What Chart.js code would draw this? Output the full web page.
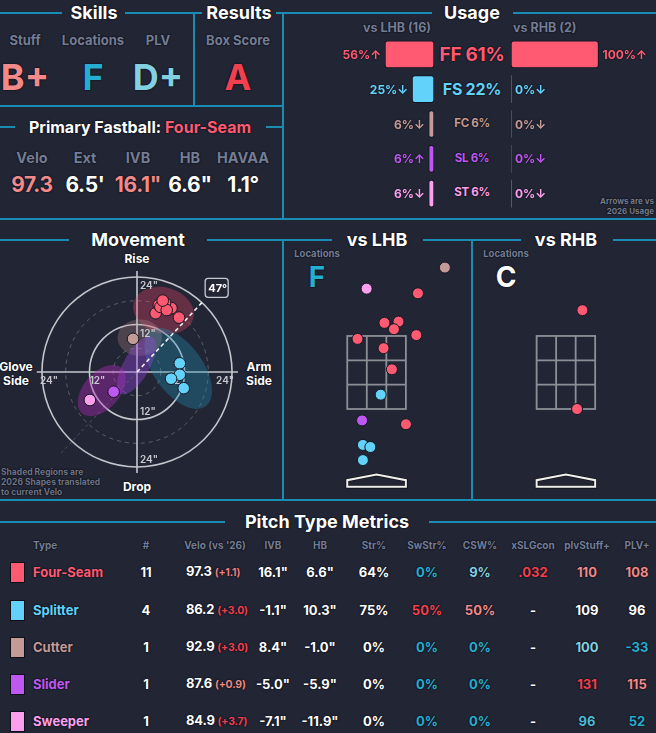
<!DOCTYPE html>
<html><head><meta charset="utf-8">
<script src="https://cdn.jsdelivr.net/npm/chart.js@4.4.1/dist/chart.umd.min.js"></script>
<style>
html,body{margin:0;padding:0;}
body{background:#222534;width:656px;height:733px;overflow:hidden;font-family:Inter,"DejaVu Sans",sans-serif;position:relative;}
.ln{position:absolute;background:#1a8cb4;}
.t{position:absolute;white-space:nowrap;font-weight:700;line-height:1;text-shadow:0 0 1px #0b0c12,0 0 2px #0b0c12;}
canvas{position:absolute;}
</style></head><body>
<script>
// ---------------- DATA ----------------
const pitchCodes = ['FF','FS','FC','SL','ST'];
const pitchNames = ['Four-Seam','Splitter','Cutter','Slider','Sweeper'];
const usageAll = [61,22,6,6,6];
const usageLHB = [56,25,6,6,6];
const usageRHB = [100,0,0,0,0];
const arrowLHB = ['↑','↓','↓','↑','↓'];
const arrowRHB = ['↑','↓','↓','↓','↓'];
const countLHB = 16, countRHB = 2;

const skillLabels = ['Stuff','Locations','PLV'];
const skillGrades = ['B+','F','D+'];
const resultLabel = 'Box Score', resultGrade = 'A';
const fbLabels = ['Velo','Ext','IVB','HB','HAVAA'];
const fbValues = ['97.3',"6.5'",'16.1"','6.6"','1.1°'];

// movement (HB, IVB in inches)
const mvFF = [{x:4.7,y:14.9},{x:6.2,y:17.5},{x:6.7,y:16.9},{x:7.9,y:15.8},{x:8.7,y:16.2},{x:10.6,y:13.8},{x:5.5,y:17.0},{x:7.1,y:17.5},{x:5.9,y:16.5},{x:7.5,y:15.7},{x:6.5,y:18.1}];
const mvFS = [{x:10.8,y:2.2},{x:10.8,y:-0.7},{x:8.6,y:-1.7},{x:11.8,y:-4.1}];
const mvFC = [{x:-1.0,y:8.4}];
const mvSL = [{x:-5.9,y:-5.0}];
const mvST = [{x:-11.9,y:-7.1}];
// 2026 shapes (center HB, center IVB, radii, rotation deg)
const shapeCX = [6.7, 10.4, 0.7, -0.1, -8.9];
const shapeCY = [15.6, 0.9, 8.7, 1.7, -4.7];
const shapeRX = [7.8, 11.8, 5.6, 8.2, 7.6];
const shapeRY = [5.8, 6.2, 4.6, 3.3, 4.6];
const shapeRot = [-15, -54, 0, 61, 49];
const ringTicks = [12, 24];
const ringMinor = [6, 18];
const armAngle = 47;

// locations (plate x, plate z in feet)
const locFF_L = [{x:1.00,y:4.29},{x:0.19,y:3.59},{x:0.53,y:3.62},{x:0.42,y:3.44},{x:0.96,y:3.30},{x:-0.46,y:3.21},{x:0.17,y:2.99},{x:0.37,y:2.49},{x:0.71,y:1.19}];
const locFS_L = [{x:0.10,y:1.89},{x:-0.33,y:0.70},{x:-0.15,y:0.65},{x:-0.33,y:0.34}];
const locFC_L = [{x:1.65,y:4.90}];
const locSL_L = [{x:-0.35,y:1.28}];
const locST_L = [{x:-0.24,y:4.40}];
const locFF_R = [{x:0.40,y:3.89},{x:0.27,y:1.55}];
const locGradeL = 'F', locGradeR = 'C';
const zoneBot = 1.55, zoneTop = 3.28, zoneHalf = 0.708;

// table
const tableHeaders = ['Type','#',"Velo (vs '26)",'IVB','HB','Str%','SwStr%','CSW%','xSLGcon','plvStuff+','PLV+'];
const pitchCounts = ['11','4','1','1','1'];
const veloVals = ['97.3','86.2','92.9','87.6','84.9'];
const veloDelta = ['+1.1','+3.0','+3.0','+0.9','+3.7'];
const ivbVals = ['16.1"','-1.1"','8.4"','-5.0"','-7.1"'];
const hbVals = ['6.6"','10.3"','-1.0"','-5.9"','-11.9"'];
const strPct = ['64%','75%','0%','0%','0%'];
const swStrPct = ['0%','50%','0%','0%','0%'];
const cswPct = ['9%','50%','0%','0%','0%'];
const xslgCon = ['.032','-','-','-','-'];
const plvStuff = ['110','109','100','131','96'];
const plvPlus = ['108','96','-33','115','52'];

// ---------------- STYLE ----------------
const pitchColors = ['#ff5a72','#62d2fa','#c49a96','#bf58f2','#fca0ee'];
const shapeFill = ['rgba(240,70,105,0.33)','rgba(30,150,190,0.32)','rgba(205,160,160,0.25)','rgba(150,70,225,0.38)','rgba(185,45,195,0.38)'];
const COL = {w:'#ffffff', red:'#f2404e', sal:'#f28a8a', teal:'#25aed0', lteal:'#82d0e2', mteal:'#4cbbd6', g:'#737d96'};
const gradeCols = [COL.sal, COL.teal, COL.lteal];
const fbCols = [COL.sal, COL.w, COL.sal, COL.w, COL.w];
const deltaCol = ['#ea7f80','#f2404e','#f2404e','#ea8a80','#f2404e'];
const swCol = ['teal','red','teal','teal','teal'];
const cswCol = ['lteal','sal','teal','teal','teal'];
const xslgCol = ['red','w','w','w','w'];
const stuffCol = ['sal','w','lteal','red','mteal'];
const plvCol = ['sal','w','teal','sal','teal'];

// ---------------- HELPERS ----------------
function H(x1,x2,y){const d=document.createElement('div');d.className='ln';d.style.left=x1+'px';d.style.top=(y-1)+'px';d.style.width=(x2-x1)+'px';d.style.height='2px';document.body.appendChild(d);}
function V(x,y1,y2){const d=document.createElement('div');d.className='ln';d.style.left=(x-1)+'px';d.style.top=y1+'px';d.style.width='2px';d.style.height=(y2-y1)+'px';document.body.appendChild(d);}
function T(txt,x,y,size,color,a,w,html,ls){
  const d=document.createElement('div');d.className='t';
  d.style.left=x+'px';d.style.top=y+'px';d.style.fontSize=size+'px';d.style.color=color;
  a=a||'c';
  d.style.transform=a==='c'?'translate(-50%,-50%)':a==='l'?'translate(0,-50%)':'translate(-100%,-50%)';
  if(w)d.style.fontWeight=w;
  if(ls)d.style.letterSpacing=ls+'px';
  if(html)d.innerHTML=txt;else d.textContent=txt;
  document.body.appendChild(d);return d;
}
function mkCanvas(l,t,w,h){const c=document.createElement('canvas');c.width=w;c.height=h;c.style.left=l+'px';c.style.top=t+'px';c.style.width=w+'px';c.style.height=h+'px';document.body.appendChild(c);return c;}

// ---------------- FRAME LINES ----------------
H(0,62,13);H(125,202,13);H(276,283,13);H(283,432,13);H(513,656,13);
V(194,13,106);H(0,283,106);H(0,15,127);H(266,283,127);
V(283,13,219);H(0,656,219);
H(0,69,240);H(207,332,240);H(423,521,240);H(613,656,240);
V(283,240,500);V(472,240,500);H(0,656,500);
H(0,225,522);H(429,656,522);

// ---------------- TOP-LEFT TEXT ----------------
T('Skills',94,13,18,'#fff');T('Results',239,13,18,'#fff');T('Usage',472,13,18,'#fff');
[25,93,158].forEach((x,i)=>{T(skillLabels[i],x,40,13,COL.g,'c',700);T(skillGrades[i],x,77,36,gradeCols[i]);});
T(resultLabel,238,40,13,COL.g,'c',700);T(resultGrade,238,77,36,COL.red);
T('Primary Fastball: <span style="color:#ff5a72">Four-Seam</span>',140,127,16,'#fff','c',700,true);
[32,85,138,190,243].forEach((x,i)=>{T(fbLabels[i],x,158,14.5,COL.g,'c',700);T(fbValues[i],x,184,21,fbCols[i],'c',700,false,-0.3);});

// ---------------- USAGE ----------------
T('vs LHB ('+countLHB+')',431,28,12.5,COL.g,'r',700);
T('vs RHB ('+countRHB+')',513,28,12.5,COL.g,'l',700);
const centerSizes=[19,16,11.5,11.5,11.5];
const rowY=[54,89,124,159,193];
pitchCodes.forEach((c,i)=>T(c+' '+usageAll[i]+'%',472,rowY[i],centerSizes[i],pitchColors[i],'c',700,false,-0.3));
T('Arrows are vs',654,201,8,'#737b8e','r',700);T('2026 Usage',654,211,8,'#737b8e','r',700);

const PXPCT=0.875;
function usageLabelPlugin(arrows, left){
  return {id:'ulab',afterDatasetsDraw(chart){
    const ctx=chart.ctx;const meta=chart.getDatasetMeta(0);
    ctx.save();ctx.font='700 12px Inter, "DejaVu Sans"';ctx.textBaseline='middle';
    meta.data.forEach((bar,i)=>{
      const v=chart.data.datasets[0].data[i];
      ctx.fillStyle=pitchColors[i];
      const txt=v+'%'+arrows[i];
      ctx.shadowColor='#0b0c12';ctx.shadowBlur=2;
      if(left){ctx.textAlign='right';ctx.fillText(txt,bar.x-4,bar.y+1);}
      else{ctx.textAlign='left';ctx.fillText(txt,bar.x+4,bar.y+1);}
    });
    ctx.restore();
  }};
}
function usageChart(canvas,data,arrows,left){
  const W=canvas.width;
  return new Chart(canvas,{type:'bar',
    data:{labels:pitchCodes,datasets:[{data:data,backgroundColor:pitchColors,borderColor:'#111420',
      borderWidth:(c)=>c.raw>0?1:0,borderRadius:3,borderSkipped:false,barThickness:27}]},
    options:{indexAxis:'y',responsive:false,maintainAspectRatio:false,animation:false,events:[],
      layout:{padding:0},plugins:{legend:{display:false},tooltip:{enabled:false}},
      scales:{x:{display:false,reverse:left,min:0,max:W/PXPCT},y:{display:false}}},
    plugins:[usageLabelPlugin(arrows,left)]});
}
usageChart(mkCanvas(286,37,148,174),usageLHB,arrowLHB,true);
usageChart(mkCanvas(511,37,145,174),usageRHB,arrowRHB,false);

// ---------------- MOVEMENT ----------------
T('Movement',138,240,18,'#fff');
T('Rise',137,259,12,'#fff');T('Drop',137,487,12,'#fff');
T('Glove',16,367,12,'#fff');T('Side',16,381,12,'#fff');
T('Arm',259,367,12,'#fff');T('Side',259,381,12,'#fff');
T('Shaded Regions are',1,472,8.5,'#6c7386','l',700);
T('2026 Shapes translated',1,482,8.5,'#6c7386','l',700);
T('to current Velo',1,492,8.5,'#6c7386','l',700);

const PPI=100/24;
const mvW=274,mvH=256,mvCX=137,mvCY=128;
const movePlugin={id:'mv',beforeDatasetsDraw(chart){
  const {ctx,scales:{x,y}}=chart;
  const px=v=>x.getPixelForValue(v),py=v=>y.getPixelForValue(v);
  const cx=px(0),cy=py(0),k=px(1)-px(0);
  ctx.save();
  ctx.setLineDash([4,4]);ctx.strokeStyle='rgba(200,200,200,0.35)';ctx.lineWidth=1;
  ringMinor.forEach(r=>{ctx.beginPath();ctx.arc(cx,cy,r*k,0,Math.PI*2);ctx.stroke();});
  ctx.setLineDash([]);
  ctx.strokeStyle='#c4c6cc';ctx.lineWidth=1.6;
  ringTicks.forEach(r=>{ctx.beginPath();ctx.arc(cx,cy,r*k,0,Math.PI*2);ctx.stroke();});
  ctx.beginPath();ctx.moveTo(px(-25.3),cy);ctx.lineTo(px(25.5),cy);ctx.moveTo(cx,py(25.6));ctx.lineTo(cx,py(-25.6));ctx.stroke();
  const a=armAngle*Math.PI/180;
  ctx.setLineDash([3,3]);ctx.strokeStyle='rgba(200,200,200,0.28)';ctx.lineWidth=1;
  ctx.beginPath();ctx.moveTo(cx,cy);ctx.lineTo(px(-28.5*Math.cos(a)),py(-28.5*Math.sin(a)));ctx.stroke();
  ctx.setLineDash([]);
  shapeCX.forEach((sx,i)=>{ctx.beginPath();ctx.ellipse(px(sx),py(shapeCY[i]),shapeRX[i]*k,shapeRY[i]*k,-shapeRot[i]*Math.PI/180,0,Math.PI*2);ctx.fillStyle=shapeFill[i];ctx.fill();});
  ctx.setLineDash([4,3]);ctx.strokeStyle='#f2f2f2';ctx.lineWidth=1.6;
  const ex=px(24.5*Math.cos(a)),ey=py(24.5*Math.sin(a));
  ctx.beginPath();ctx.moveTo(cx,cy);ctx.lineTo(ex,ey);ctx.stroke();
  ctx.setLineDash([]);
  ctx.font='600 10px Inter, "DejaVu Sans"';ctx.fillStyle='#c8cad0';ctx.textBaseline='middle';
  ctx.textAlign='left';
  ringTicks.forEach(r=>{ctx.fillText(r+'"',cx+3,py(r)+9);ctx.fillText(r+'"',cx+3,py(-r)-7);});
  ctx.textAlign='center';
  ringTicks.forEach(r=>{ctx.fillText(r+'"',px(-r)+(r===24?7:8),cy+9);ctx.fillText(r+'"',px(r)-7,cy+9);});
  const bx=ex+13.5,by=ey-13.5;
  ctx.fillStyle='#222534';ctx.strokeStyle='#c8cad0';ctx.lineWidth=1.3;
  ctx.beginPath();ctx.roundRect(bx-11.5,by-9.5,23,19,3);ctx.fill();ctx.stroke();
  ctx.fillStyle='#fff';ctx.font='700 11px Inter, "DejaVu Sans"';ctx.fillText(armAngle+'°',bx+1,by+1);
  ctx.restore();
}};
const mvSets=[mvFF,mvFS,mvFC,mvSL,mvST];
function ptSets(sets,idx,r){return sets.map((d,j)=>({data:d,backgroundColor:pitchColors[idx[j]],borderColor:'#161824',borderWidth:1,pointRadius:r}));}
new Chart(mkCanvas(0,244,mvW,mvH),{type:'scatter',
  data:{datasets:ptSets(mvSets,[0,1,2,3,4],5.8)},
  options:{responsive:false,animation:false,events:[],layout:{padding:0},
    plugins:{legend:{display:false},tooltip:{enabled:false}},
    scales:{x:{display:false,min:-mvCX/PPI,max:(mvW-mvCX)/PPI},y:{display:false,min:-(mvH-mvCY)/PPI,max:mvCY/PPI}}},
  plugins:[movePlugin]});

// ---------------- LOCATIONS ----------------
T('vs LHB',377,240,18,'#fff');T('vs RHB',566,240,18,'#fff');
T('Locations',317,254,9.5,COL.g,'c',700);T(locGradeL,317,277,28,COL.teal);
T('Locations',506,254,9.5,COL.g,'c',700);T(locGradeR,506,277,28,'#fff');
const PPF=44.5;
const zonePlugin={id:'zone',beforeDatasetsDraw(chart){
  const {ctx,scales:{x,y}}=chart;
  const px=v=>x.getPixelForValue(v),py=v=>y.getPixelForValue(v);
  ctx.save();ctx.strokeStyle='#8d8f96';ctx.lineWidth=1.8;
  const x0=px(-zoneHalf),x1=px(zoneHalf),y0=py(zoneTop),y1=py(zoneBot);
  ctx.strokeRect(x0,y0,x1-x0,y1-y0);
  ctx.beginPath();
  for(let i=1;i<3;i++){const xx=x0+(x1-x0)*i/3,yy=y0+(y1-y0)*i/3;ctx.moveTo(xx,y0);ctx.lineTo(xx,y1);ctx.moveTo(x0,yy);ctx.lineTo(x1,yy);}
  ctx.stroke();
  ctx.beginPath();ctx.moveTo(px(-zoneHalf),py(-0.29));ctx.lineTo(px(-zoneHalf),py(-0.135));ctx.lineTo(px(0),py(0));ctx.lineTo(px(zoneHalf),py(-0.135));ctx.lineTo(px(zoneHalf),py(-0.29));ctx.closePath();
  ctx.strokeStyle='#111';ctx.lineWidth=3.5;ctx.stroke();
  ctx.strokeStyle='#f0f0f0';ctx.lineWidth=2;ctx.stroke();
  ctx.restore();
}};
function locChart(l,t,w,h,zoneCenterPx,sets,idx){
  const cx=zoneCenterPx-l,by=411-t;
  return new Chart(mkCanvas(l,t,w,h),{type:'scatter',
    data:{datasets:ptSets(sets,idx,5.5)},
    options:{responsive:false,animation:false,events:[],layout:{padding:0},
      plugins:{legend:{display:false},tooltip:{enabled:false}},
      scales:{x:{display:false,min:-cx/PPF,max:(w-cx)/PPF},y:{display:false,min:zoneBot-(h-by)/PPF,max:zoneBot+by/PPF}}},
    plugins:[zonePlugin]});
}
locChart(284,245,187,254,376.5,[locFF_L,locFS_L,locFC_L,locSL_L,locST_L],[0,1,2,3,4]);
locChart(473,245,183,254,566,[locFF_R],[0]);

// ---------------- TABLE ----------------
T('Pitch Type Metrics',327,522,18,'#fff');
const colX=[33,146,215,273,320,374,427,480,533,587,637];
tableHeaders.forEach((h,i)=>T(h,colX[i],545,10,COL.g,i===0?'l':'c',700));
const rowsY=[572,610,647,684,721];
pitchNames.forEach((n,i)=>{
  const y=rowsY[i];
  const sw=document.createElement('div');
  sw.style.cssText='position:absolute;left:10px;top:'+(y-10)+'px;width:13px;height:19px;border:1px solid #0d0f18;background:'+pitchColors[i];
  document.body.appendChild(sw);
  T(n,33,y,13,pitchColors[i],'l');
  T(pitchCounts[i],146,y,13,'#fff');
  T(veloVals[i]+' <span style="font-size:10.5px;color:'+deltaCol[i]+'">('+veloDelta[i]+')</span>',186,y,13,'#fff','l',700,true,-0.2);
  T(ivbVals[i],273,y,13,'#fff');
  T(hbVals[i],320,y,13,'#fff');
  T(strPct[i],374,y,13,'#fff');
  T(swStrPct[i],427,y,13,COL[swCol[i]]);
  T(cswPct[i],480,y,13,COL[cswCol[i]]);
  T(xslgCon[i],533,y,13,COL[xslgCol[i]]);
  T(plvStuff[i],587,y,13,COL[stuffCol[i]]);
  T(plvPlus[i],637,y,13,COL[plvCol[i]]);
});
</script>
</body></html>
